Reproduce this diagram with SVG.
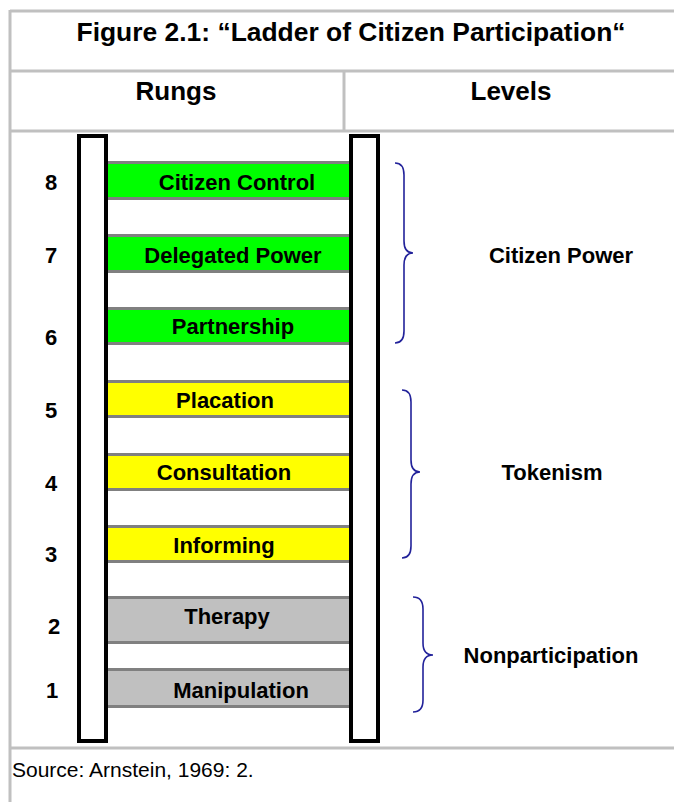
<svg xmlns="http://www.w3.org/2000/svg" width="674" height="802" viewBox="0 0 674 802">
<style>
.grid{stroke:#c0c0c0;stroke-width:3;fill:none}
.t{font-family:"Liberation Sans",Arial,sans-serif;font-weight:bold;fill:#000;text-anchor:middle}
.hd{font-size:26px}
.lb{font-size:22px}
.src{font-family:"Liberation Sans",Arial,sans-serif;font-size:21px;fill:#000}
.rail{fill:#fff;stroke:#000;stroke-width:4}
.edge{stroke:#808080;stroke-width:3}
.brace{fill:none;stroke:#22229a;stroke-width:1.6}
.green{fill:#00ff00}.yellow{fill:#ffff00}.grey{fill:#c0c0c0}
</style>
<rect width="674" height="802" fill="#fff"/>
<g id="table">
<line class="grid" x1="10" y1="11" x2="674" y2="11"/>
<line class="grid" x1="10" y1="71" x2="674" y2="71"/>
<line class="grid" x1="10" y1="131" x2="674" y2="131"/>
<line class="grid" x1="10" y1="748" x2="674" y2="748"/>
<line class="grid" x1="10" y1="10" x2="10" y2="802"/>
<line class="grid" x1="344" y1="71" x2="344" y2="131"/>
<text class="t hd" x="351" y="41" textLength="549" lengthAdjust="spacingAndGlyphs">Figure 2.1: “Ladder of Citizen Participation“</text>
<text class="t hd" x="176" y="100">Rungs</text>
<text class="t hd" x="511" y="100">Levels</text>
<text class="src" x="12" y="777">Source: Arnstein, 1969: 2.</text>
</g>
<g id="rungs">
<g id="rung8"><rect class="green" x="106" y="162" width="245" height="37"/><line class="edge" x1="106" y1="162.5" x2="351" y2="162.5"/><line class="edge" x1="106" y1="198.5" x2="351" y2="198.5"/><text class="t lb" x="237" y="190">Citizen Control</text></g>
<g id="rung7"><rect class="green" x="106" y="235" width="245" height="37"/><line class="edge" x1="106" y1="235.5" x2="351" y2="235.5"/><line class="edge" x1="106" y1="271.5" x2="351" y2="271.5"/><text class="t lb" x="233" y="263">Delegated Power</text></g>
<g id="rung6"><rect class="green" x="106" y="308" width="245" height="36"/><line class="edge" x1="106" y1="308.5" x2="351" y2="308.5"/><line class="edge" x1="106" y1="343.5" x2="351" y2="343.5"/><text class="t lb" x="233" y="334">Partnership</text></g>
<g id="rung5"><rect class="yellow" x="106" y="381" width="245" height="36"/><line class="edge" x1="106" y1="381.5" x2="351" y2="381.5"/><line class="edge" x1="106" y1="416.5" x2="351" y2="416.5"/><text class="t lb" x="225" y="408">Placation</text></g>
<g id="rung4"><rect class="yellow" x="106" y="454" width="245" height="36"/><line class="edge" x1="106" y1="454.5" x2="351" y2="454.5"/><line class="edge" x1="106" y1="489.5" x2="351" y2="489.5"/><text class="t lb" x="224" y="480">Consultation</text></g>
<g id="rung3"><rect class="yellow" x="106" y="526" width="245" height="36"/><line class="edge" x1="106" y1="526.5" x2="351" y2="526.5"/><line class="edge" x1="106" y1="561.5" x2="351" y2="561.5"/><text class="t lb" x="224" y="553">Informing</text></g>
<g id="rung2"><rect class="grey" x="106" y="597" width="245" height="46"/><line class="edge" x1="106" y1="597.5" x2="351" y2="597.5"/><line class="edge" x1="106" y1="642.5" x2="351" y2="642.5"/><text class="t lb" x="227" y="624">Therapy</text></g>
<g id="rung1"><rect class="grey" x="106" y="669" width="245" height="38"/><line class="edge" x1="106" y1="669.5" x2="351" y2="669.5"/><line class="edge" x1="106" y1="706.5" x2="351" y2="706.5"/><text class="t lb" x="241" y="698">Manipulation</text></g>
</g>
<g id="rails">
<rect class="rail" x="79" y="136" width="27" height="605"/>
<rect class="rail" x="351" y="136" width="27" height="605"/>
</g>
<g id="numbers">
<text class="t lb" x="51" y="190">8</text>
<text class="t lb" x="51" y="263">7</text>
<text class="t lb" x="51" y="345">6</text>
<text class="t lb" x="51" y="418">5</text>
<text class="t lb" x="51" y="491">4</text>
<text class="t lb" x="51" y="562">3</text>
<text class="t lb" x="54" y="634">2</text>
<text class="t lb" x="52" y="698">1</text>
</g>
<g id="connectors">
<path class="brace" d="M395,163 Q404,163 404,175 L404,241 Q404,253 413,253 Q404,253 404,265 L404,331 Q404,343 395,343"/>
<path class="brace" d="M402,390 Q411,390 411,402 L411,460 Q411,472 420,472 Q411,472 411,484 L411,546 Q411,558 402,558"/>
<path class="brace" d="M413,597 Q423,597 423,609 L423,643 Q423,655 433,655 Q423,655 423,667 L423,700 Q423,712 413,712"/>
</g>
<g id="levels">
<text class="t lb" x="561" y="263">Citizen Power</text>
<text class="t lb" x="552" y="480">Tokenism</text>
<text class="t lb" x="551" y="663">Nonparticipation</text>
</g>
</svg>
